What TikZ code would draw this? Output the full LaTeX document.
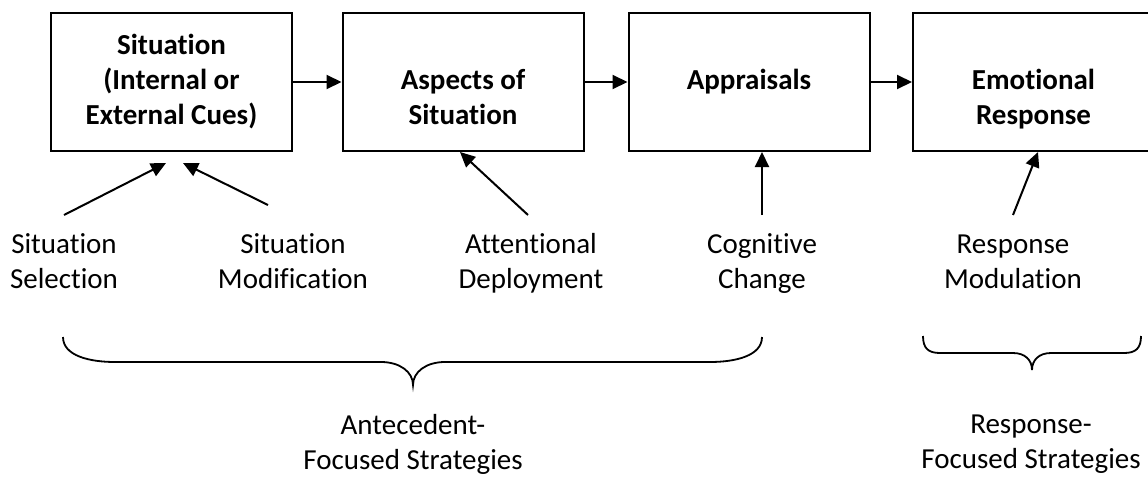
\documentclass[tikz,border=0pt]{standalone}
\usepackage{fontspec}
\setmainfont{Carlito}[Ligatures=NoCommon]
\usetikzlibrary{arrows.meta}
\begin{document}
\begin{tikzpicture}[x=1pt,y=-1pt,
  every node/.style={font=\fontsize{29}{35}\selectfont},
  box/.style={draw, line width=2pt, minimum width=241pt, minimum height=138pt, inner sep=0pt, align=center, font=\fontsize{29}{35}\selectfont\bfseries},
  lbl/.style={align=center, inner sep=0pt},
  arr/.style={line width=2pt, -{Triangle[length=15pt,width=14pt]}},
  brace/.style={line width=1.8pt}
]
\clip (0,0) rectangle (1148,477);
\fill[white] (0,0) rectangle (1148,477);
% boxes
\node[box] (b1) at (171.5,82) {Situation\strut\\(Internal or\strut\\External Cues)\strut};
\node[box] (b2) at (463,82) {\strut\\Aspects of\strut\\Situation\strut};
\node[box] (b3) at (749,82) {\strut\\Appraisals\strut\\\strut};
\node[box] (b4) at (1033.5,82) {\strut\\Emotional\strut\\Response\strut};
\draw[arr] (b1) -- (b2);
\draw[arr] (b2) -- (b3);
\draw[arr] (b3) -- (b4);
% strategy labels
\node[lbl] (l1) at (64,263.5) {Situation\strut\\Selection\strut};
\node[lbl] (l2) at (293,263.5) {Situation\strut\\Modification\strut};
\node[lbl] (l3) at (531,263.5) {Attentional\strut\\Deployment\strut};
\node[lbl] (l4) at (762,263.5) {Cognitive\strut\\Change\strut};
\node[lbl] (l5) at (1013,263.5) {Response\strut\\Modulation\strut};
% arrow ends
\coordinate (t1) at (64,215);   \coordinate (h1) at (166,163);
\coordinate (t2) at (268,205);  \coordinate (h2) at (183,163);
\coordinate (t3) at (528,215);  \coordinate (h3) at (460,152);
\coordinate (t4) at (762,215);  \coordinate (h4) at (762,152);
\coordinate (t5) at (1013,215); \coordinate (h5) at (1038,152);
\draw[arr] (t1) -- (h1);
\draw[arr] (t2) -- (h2);
\draw[arr] (t3) -- (h3);
\draw[arr] (t4) -- (h4);
\draw[arr] (t5) -- (h5);
% braces
\draw[brace] (63,337) .. controls (63,356) and (90,362) .. (115,362) -- (381,362)
  .. controls (400,362) and (413,372) .. (413,385)
  .. controls (413,372) and (426,362) .. (445,362) -- (710,362)
  .. controls (735,362) and (762,356) .. (762,337);
\draw[brace] (923,336) .. controls (923,348) and (928,353) .. (940,353) -- (1013,353)
  .. controls (1025,353) and (1032,360) .. (1032,370)
  .. controls (1032,360) and (1039,353) .. (1051,353) -- (1124,353)
  .. controls (1136,353) and (1141,348) .. (1141,336);
% group labels
\node[lbl] (g1) at (413,445) {Antecedent-\strut\\Focused Strategies\strut};
\node[lbl] (g2) at (1031,444) {Response-\strut\\Focused Strategies\strut};
\end{tikzpicture}
\end{document}
